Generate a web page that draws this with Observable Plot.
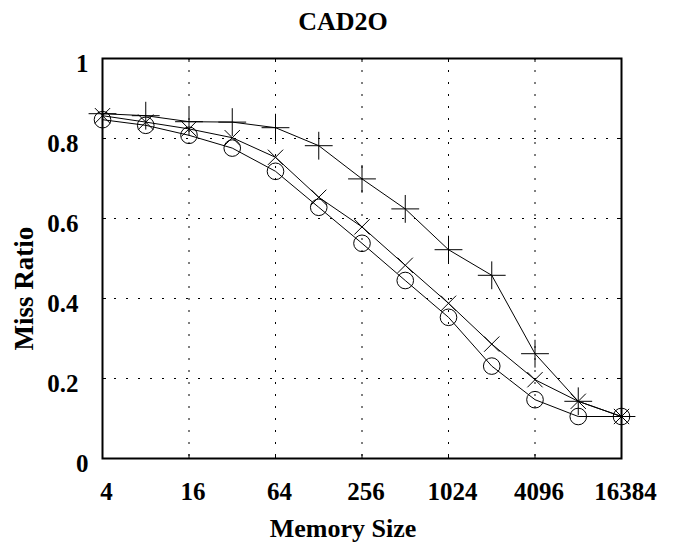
<!DOCTYPE html>
<html>
<head>
<meta charset="utf-8">
<script src="https://cdn.jsdelivr.net/npm/d3@7"></script>
<script src="https://cdn.jsdelivr.net/npm/@observablehq/plot@0.6"></script>
<style>
  html, body { margin: 0; padding: 0; background: #fff; }
  #chart svg { display: block; }
</style>
</head>
<body>
<div id="chart"></div>
<script>
// ---- data ----
const title = "CAD2O";
const xLabel = "Memory Size";
const yLabel = "Miss Ratio";
const memorySizes = [4, 8, 16, 32, 64, 128, 256, 512, 1024, 2048, 4096, 8192, 16384];
const plusSeries  = [0.862, 0.857, 0.842, 0.841, 0.827, 0.782, 0.699, 0.624, 0.522, 0.458, 0.262, 0.143, 0.105];
const timesSeries = [0.857, 0.841, 0.824, 0.802, 0.753, 0.653, 0.579, 0.483, 0.388, 0.286, 0.197, 0.143, 0.105];
const circleSeries= [0.847, 0.833, 0.808, 0.776, 0.718, 0.628, 0.538, 0.445, 0.353, 0.231, 0.147, 0.105, 0.105];
const xTicks = [4, 16, 64, 256, 1024, 4096, 16384];
const yTicksInt = [0, 1];
const yTicksDec = [0.2, 0.4, 0.6, 0.8];
const yTicks = [0, 0.2, 0.4, 0.6, 0.8, 1];

const rows = (ys) => memorySizes.map((x, i) => ({x, y: ys[i]}));
const plusData = rows(plusSeries);
const timesData = rows(timesSeries);
const circleData = rows(circleSeries);

const font = "Liberation Serif";
const W = 686, H = 547, mL = 102, mR = 65, mT = 58, mB = 89;
const innerW = W - mL - mR, innerH = H - mT - mB;
const tick = 4;
const txt = {fontWeight: "bold", fontFamily: font, fill: "black"};

const chart = Plot.plot({
  width: W,
  height: H,
  marginLeft: mL,
  marginRight: mR,
  marginTop: mT,
  marginBottom: mB,
  x: {type: "log", base: 2, domain: [4, 16384], axis: null},
  y: {domain: [0, 1], axis: null},
  style: {fontFamily: font},
  marks: [
    // dotted grid
    Plot.ruleX(xTicks, {x: d => d, stroke: "black", strokeWidth: 1, strokeDasharray: "2,10"}),
    Plot.ruleY(yTicks, {y: d => d, stroke: "black", strokeWidth: 1, strokeDasharray: "2,10"}),
    // inward tick marks
    Plot.ruleX(xTicks, {x: d => d, stroke: "black", insetTop: innerH - tick}),
    Plot.ruleX(xTicks, {x: d => d, stroke: "black", insetBottom: innerH - tick}),
    Plot.ruleY(yTicks, {y: d => d, stroke: "black", insetRight: innerW - tick}),
    Plot.ruleY(yTicks, {y: d => d, stroke: "black", insetLeft: innerW - tick}),
    Plot.frame({stroke: "black", strokeWidth: 2}),
    // series
    Plot.line(plusData, {x: "x", y: "y", stroke: "black", strokeWidth: 1}),
    Plot.line(timesData, {x: "x", y: "y", stroke: "black", strokeWidth: 1}),
    Plot.line(circleData, {x: "x", y: "y", stroke: "black", strokeWidth: 1}),
    Plot.dot(plusData, {x: "x", y: "y", symbol: "plus", r: 9, fill: "none", stroke: "black", strokeWidth: 1}),
    Plot.dot(timesData, {x: "x", y: "y", symbol: "times", r: 7, fill: "none", stroke: "black", strokeWidth: 1}),
    Plot.dot(circleData, {x: "x", y: "y", symbol: "circle", r: 8.3, fill: "none", stroke: "black", strokeWidth: 1}),
    // tick labels
    Plot.text(xTicks, {x: d => d, text: d => String(d), frameAnchor: "bottom", textAnchor: "middle", lineAnchor: "middle", dy: 33, dx: 4,
      fontSize: 25, ...txt}),
    Plot.text(yTicksInt, {y: d => d, text: d => String(d), frameAnchor: "left", textAnchor: "end", lineAnchor: "middle", dx: -14, dy: 5,
      fontSize: 25, ...txt}),
    Plot.text(yTicksDec, {y: d => d, text: d => String(d), frameAnchor: "left", textAnchor: "end", lineAnchor: "middle", dx: -24, dy: 5,
      fontSize: 25, ...txt}),
    // title and axis labels
    Plot.text([title], {text: d => d, frameAnchor: "top", textAnchor: "middle", lineAnchor: "middle", dx: -19, dy: -37,
      fontSize: 26, ...txt}),
    Plot.text([xLabel], {text: d => d, frameAnchor: "bottom", textAnchor: "middle", lineAnchor: "middle", dx: -19, dy: 70,
      fontSize: 26, ...txt}),
    Plot.text([yLabel], {text: d => d, frameAnchor: "left", textAnchor: "middle", lineAnchor: "middle", rotate: -90, dx: -78, dy: 30,
      fontSize: 27, ...txt})
  ]
});
d3.select(chart).selectAll("text").attr("font-family", font).style("font-family", font);
document.getElementById("chart").appendChild(chart);
</script>
</body>
</html>
